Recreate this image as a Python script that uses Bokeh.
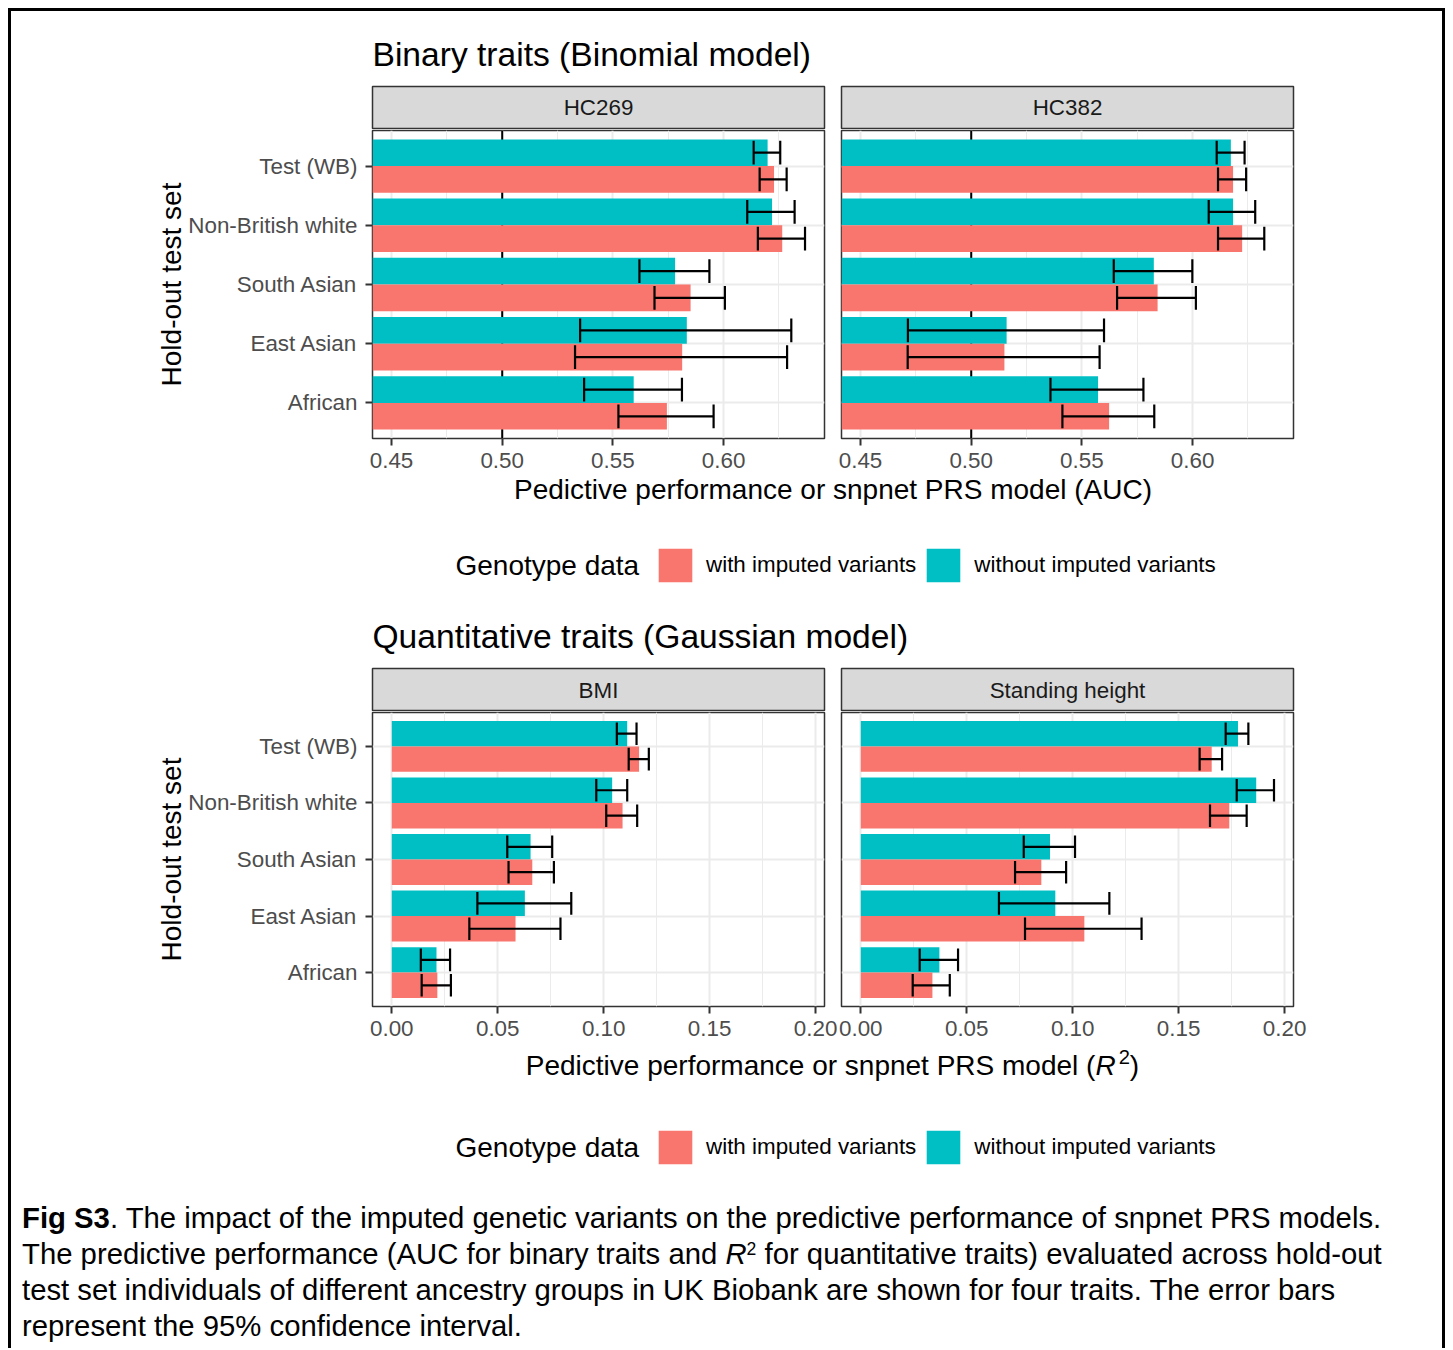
from bokeh.plotting import figure
from bokeh.models import (Range1d, FactorRange, FixedTicker, NumeralTickFormatter,
                          Span, Legend, LegendItem, ColumnDataSource, Div, Spacer)
from bokeh.layouts import column, row
from bokeh.transform import dodge
from bokeh.core.properties import value
from bokeh.embed import file_html
from bokeh.resources import INLINE

# ---------------- data ----------------
groups = ["Test (WB)", "Non-British white", "South Asian", "East Asian", "African"]

# HC269 (AUC)
hc269_with = [0.6228, 0.6265, 0.5851, 0.5813, 0.5744]
hc269_with_lo = [0.6163, 0.6155, 0.5688, 0.5329, 0.5525]
hc269_with_hi = [0.6285, 0.6368, 0.6006, 0.6287, 0.5955]
hc269_without = [0.6199, 0.6219, 0.5781, 0.5834, 0.5594]
hc269_without_lo = [0.6136, 0.6107, 0.5620, 0.5352, 0.5370]
hc269_without_hi = [0.6256, 0.6321, 0.5936, 0.6306, 0.5812]

# HC382 (AUC)
hc382_with = [0.6183, 0.6224, 0.5842, 0.5150, 0.5623]
hc382_with_lo = [0.6115, 0.6115, 0.5659, 0.4713, 0.5412]
hc382_with_hi = [0.6242, 0.6324, 0.6015, 0.5580, 0.5827]
hc382_without = [0.6173, 0.6183, 0.5825, 0.5160, 0.5573]
hc382_without_lo = [0.6109, 0.6073, 0.5644, 0.4714, 0.5358]
hc382_without_hi = [0.6235, 0.6283, 0.5999, 0.5600, 0.5778]

# BMI (R2)
bmi_with = [0.1167, 0.1089, 0.0663, 0.0584, 0.0215]
bmi_with_lo = [0.1118, 0.1012, 0.0551, 0.0366, 0.0141]
bmi_with_hi = [0.1213, 0.1158, 0.0765, 0.0796, 0.0279]
bmi_without = [0.1111, 0.1040, 0.0655, 0.0628, 0.0211]
bmi_without_lo = [0.1062, 0.0965, 0.0545, 0.0404, 0.0137]
bmi_without_hi = [0.1155, 0.1111, 0.0757, 0.0847, 0.0275]

# Standing height (R2)
height_with = [0.1656, 0.1739, 0.0852, 0.1055, 0.0338]
height_with_lo = [0.1599, 0.1648, 0.0728, 0.0775, 0.0245]
height_with_hi = [0.1705, 0.1821, 0.0969, 0.1325, 0.0420]
height_without = [0.1780, 0.1866, 0.0893, 0.0918, 0.0371]
height_without_lo = [0.1722, 0.1774, 0.0769, 0.0652, 0.0278]
height_without_hi = [0.1829, 0.1950, 0.1011, 0.1173, 0.0459]

auc_ticks = [0.45, 0.50, 0.55, 0.60]
auc_minor = [0.475, 0.525, 0.575, 0.625]
auc_lim = (0.4414, 0.6456)
r2_ticks = [0.00, 0.05, 0.10, 0.15, 0.20]
r2_minor = [0.025, 0.075, 0.125, 0.175]
r2_lim = (-0.0091, 0.2042)
AUC_NULL = 0.5

legend_labels = ["with imputed variants", "without imputed variants"]

# ---------------- style ----------------
FONT = "Liberation Sans"
RED = "#F8766D"
TEAL = "#00BFC4"
GRID = "#EBEBEB"
DARK = "#333333"

INNER_W = 1431
L_W, L_PAD_L, L_PAD_R = 827, 361, 14
R_W, R_PAD_L, R_PAD_R = 604, 3, 149
EB_W = 2.2
PANEL_BOTTOM = 33


def text_fig(w, h):
    p = figure(width=w, height=h, x_range=Range1d(0, w), y_range=Range1d(h, 0),
               min_border=0, x_axis_type=None, y_axis_type=None,
               toolbar_location=None, output_backend="svg")
    p.outline_line_color = None
    p.background_fill_color = "white"
    p.border_fill_color = "white"
    return p


def add_text(p, x, y, txt, size, align="left", color="black"):
    p.text(x=[x], y=[y], text=[txt], text_font=value(FONT),
           text_font_size=value(size), text_align=align,
           text_baseline="alphabetic", text_color=color)


def strip_fig(label, left_side, text_y):
    bl, br, w = (L_PAD_L, L_PAD_R, L_W) if left_side else (R_PAD_L, R_PAD_R, R_W)
    p = figure(width=w, height=44, x_range=Range1d(0, 1), y_range=Range1d(42, 0),
               min_border_left=bl, min_border_right=br, min_border_top=1,
               min_border_bottom=1, x_axis_type=None, y_axis_type=None,
               toolbar_location=None, output_backend="svg")
    p.background_fill_color = "#D9D9D9"
    p.border_fill_color = "white"
    p.outline_line_color = DARK
    p.outline_line_width = 1.5
    p.text(x=[0.5], y=[text_y], text=[label], text_font=value(FONT),
           text_font_size=value("22.4px"), text_align="center",
           text_baseline="alphabetic", text_color="#1A1A1A")
    return p


def panel_fig(vals, lim, ticks, minor, left_side, frame_h, null_line=None):
    bl, br, w = (L_PAD_L, L_PAD_R, L_W) if left_side else (R_PAD_L, R_PAD_R, R_W)
    yr = FactorRange(factors=list(reversed(groups)), range_padding=0.1,
                     range_padding_units="absolute")
    p = figure(width=w, height=frame_h + 1 + PANEL_BOTTOM, x_range=Range1d(*lim), y_range=yr,
               min_border_left=bl, min_border_right=br, min_border_top=1,
               min_border_bottom=PANEL_BOTTOM, toolbar_location=None, output_backend="svg")
    p.background_fill_color = "white"
    p.border_fill_color = "white"
    p.outline_line_color = DARK
    p.outline_line_width = 1.5

    src = ColumnDataSource(dict(g=groups, wi=vals[0], wi_lo=vals[1], wi_hi=vals[2],
                                wo=vals[3], wo_lo=vals[4], wo_hi=vals[5]))

    p.xaxis.ticker = FixedTicker(ticks=ticks, minor_ticks=minor)
    p.xgrid.grid_line_color = GRID
    p.xgrid.grid_line_width = 2
    p.xgrid.minor_grid_line_color = GRID
    p.xgrid.minor_grid_line_width = 1
    p.ygrid.grid_line_color = GRID
    p.ygrid.grid_line_width = 2

    if null_line is not None:
        p.add_layout(Span(location=null_line, dimension="height", line_color="black",
                          line_width=2, level="underlay"))

    p.hbar(y=dodge("g", 0.225, range=yr), left=0, right="wo", height=0.45,
           fill_color=TEAL, line_color=None, source=src)
    p.hbar(y=dodge("g", -0.225, range=yr), left=0, right="wi", height=0.45,
           fill_color=RED, line_color=None, source=src)
    for off, lo, hi in [(0.225, "wo_lo", "wo_hi"), (-0.225, "wi_lo", "wi_hi")]:
        p.segment(x0=lo, x1=hi, y0=dodge("g", off, range=yr), y1=dodge("g", off, range=yr),
                  line_color="black", line_width=EB_W, source=src)
        for f in (lo, hi):
            p.segment(x0=f, x1=f, y0=dodge("g", off - 0.2, range=yr),
                      y1=dodge("g", off + 0.2, range=yr),
                      line_color="black", line_width=EB_W, source=src)

    p.xaxis.formatter = NumeralTickFormatter(format="0.00")
    for ax in (p.xaxis, p.yaxis):
        ax.axis_line_color = None
        ax.major_tick_line_color = DARK
        ax.major_tick_line_width = 2
        ax.major_tick_out = 7
        ax.major_tick_in = 0
        ax.minor_tick_line_color = None
        ax.major_label_text_font = FONT
        ax.major_label_text_font_size = "22.4px"
        ax.major_label_text_color = "#4D4D4D"
    p.xaxis.major_label_standoff = 7
    p.yaxis.major_label_standoff = 8
    if left_side:
        p.yaxis.axis_label = "Hold-out test set"
        p.yaxis.axis_label_text_font = FONT
        p.yaxis.axis_label_text_font_size = "28px"
        p.yaxis.axis_label_text_font_style = "normal"
        p.yaxis.axis_label_text_color = "black"
        p.yaxis.axis_label_standoff = -2
    else:
        p.yaxis.visible = False
    return p


def legend_fig(h, title_y, legend_y_from_bottom, xtitle=None, xtitle_y=None):
    p = text_fig(INNER_W, h)
    if xtitle is not None:
        add_text(p, 821.5, xtitle_y, xtitle, "28px", align="center")
    add_text(p, 444, title_y, "Genotype data", "28px")
    # zero-size bars: only their style is used by the legend keys
    r1 = p.hbar(y=[0], left=[0], right=[0], height=0, fill_color=RED, line_color=None)
    r2 = p.hbar(y=[0], left=[0], right=[0], height=0, fill_color=TEAL, line_color=None)
    lg = Legend(items=[LegendItem(label=legend_labels[0], renderers=[r1]),
                       LegendItem(label=legend_labels[1], renderers=[r2])],
                orientation="horizontal", location=(643, legend_y_from_bottom),
                glyph_width=42, glyph_height=42, label_standoff=10, spacing=6,
                padding=0, margin=0, border_line_color=None, background_fill_alpha=0,
                label_text_font=FONT, label_text_font_size="22.4px",
                label_text_color="black")
    p.add_layout(lg)
    return p


# ---------------- section 1 ----------------
head1 = text_fig(INNER_W, 74)
add_text(head1, 361, 43, "Binary traits (Binomial model)", "33.6px")

strips1 = row(strip_fig("HC269", True, 21), strip_fig("HC382", False, 21), spacing=0)
panels1 = row(
    panel_fig([hc269_with, hc269_with_lo, hc269_with_hi, hc269_without, hc269_without_lo,
               hc269_without_hi], auc_lim, auc_ticks, auc_minor, True, 308, AUC_NULL),
    panel_fig([hc382_with, hc382_with_lo, hc382_with_hi, hc382_without, hc382_without_lo,
               hc382_without_hi], auc_lim, auc_ticks, auc_minor, False, 308, AUC_NULL),
    spacing=0)
# legend figure 1 starts at page y 471 and ends at 600
leg1 = legend_fig(129, 94, 14.5, "Pedictive performance or snpnet PRS model (AUC)", 18)

# ---------------- section 2 ----------------
head2 = text_fig(INNER_W, 67)
add_text(head2, 361, 36, "Quantitative traits (Gaussian model)", "33.6px")

strips2 = row(strip_fig("BMI", True, 22), strip_fig("Standing height", False, 22), spacing=0)
panels2 = row(
    panel_fig([bmi_with, bmi_with_lo, bmi_with_hi, bmi_without, bmi_without_lo,
               bmi_without_hi], r2_lim, r2_ticks, r2_minor, True, 294),
    panel_fig([height_with, height_with_lo, height_with_hi, height_without,
               height_without_lo, height_without_hi], r2_lim, r2_ticks, r2_minor, False, 294),
    spacing=0)

# x title 2 starts at page y 1039
xt2 = Div(text=("<div style=\"font-family:'Liberation Sans',Arial,sans-serif;font-size:28px;"
                "line-height:31px;padding-top:11px;padding-left:212px;width:1431px;"
                "box-sizing:border-box;text-align:center;white-space:nowrap;color:#000;\">"
                "Pedictive performance or snpnet PRS model (<i>R</i>"
                "<span style=\"position:relative;top:-0.55em;font-size:72%;margin-left:3px;"
                "line-height:0;\">2</span>)"
                "</div>"),
          width=INNER_W, height=61, margin=0)
leg2 = legend_fig(85, 47, 17.5)

caption = Div(text=("<div style=\"font-family:'Liberation Sans',Arial,sans-serif;font-size:29.3px;"
                    "line-height:36px;padding-top:15px;padding-left:11px;width:1431px;"
                    "box-sizing:border-box;white-space:nowrap;color:#000;\">"
                    "<b>Fig S3</b>. The impact of the imputed genetic variants on the predictive "
                    "performance of snpnet PRS models.<br>"
                    "The predictive performance (AUC for binary traits and <i>R</i>"
                    "<span style=\"position:relative;top:-0.5em;font-size:60%;line-height:0;\">2</span> for "
                    "quantitative traits) evaluated across hold-out<br>"
                    "test set individuals of different ancestry groups in UK Biobank are shown "
                    "for four traits. The error bars<br>"
                    "represent the 95% confidence interval.</div>"),
              width=INNER_W, height=157, margin=0)

inner = column(head1, strips1, panels1, leg1, head2, strips2, panels2, xt2, leg2, caption,
               spacing=0)
BAR_H = 1337
top_bar = Spacer(width=INNER_W + 6, height=3, styles={"background-color": "black"})
left_bar = Spacer(width=3, height=BAR_H, styles={"background-color": "black"})
right_bar = Spacer(width=3, height=BAR_H, styles={"background-color": "black"})
framed = column(top_bar, row(left_bar, inner, right_bar, spacing=0), spacing=0)

page = column(Spacer(width=INNER_W + 14, height=8),
              row(Spacer(width=8, height=BAR_H + 3), framed, spacing=0),
              spacing=0)

open("out.html", "w").write(file_html(page, INLINE))
